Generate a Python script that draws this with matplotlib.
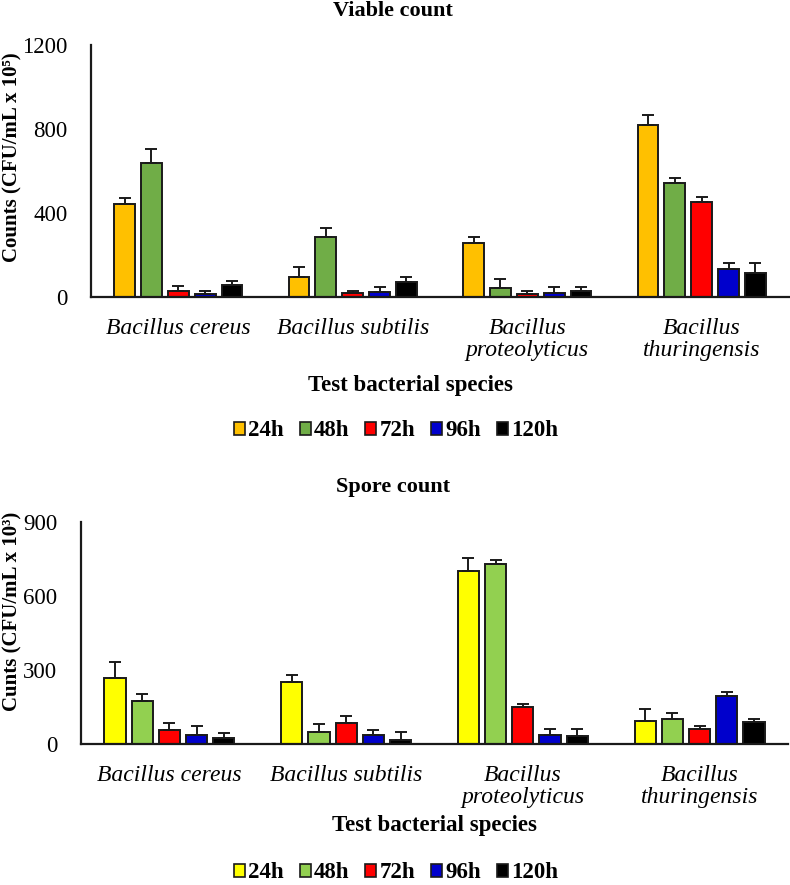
import numpy as np
import matplotlib
matplotlib.use("Agg")
import matplotlib.pyplot as plt
from matplotlib.patches import Patch

plt.rcParams['font.family'] = ['Liberation Serif', 'DejaVu Serif']

species = ['Bacillus cereus', 'Bacillus subtilis', 'Bacillus\nproteolyticus', 'Bacillus\nthuringensis']
hours = ['24h', '48h', '72h', '96h', '120h']

# viable count (CFU/mL x 10^5), rows = hours, cols = species
viable = [[445, 97, 259, 819],
          [640, 284, 43, 541],
          [30, 17, 14, 451],
          [14, 22, 19, 132],
          [56, 70, 27, 116]]
viable_err = [[28, 46, 25, 49],
              [66, 45, 41, 24],
              [22, 13, 16, 24],
              [16, 27, 30, 28],
              [20, 25, 22, 44]]

# spore count (CFU/mL x 10^3)
spore = [[266, 253, 701, 95],
         [176, 47, 730, 101],
         [55, 86, 151, 59],
         [38, 36, 38, 193],
         [23, 18, 31, 88]]
spore_err = [[68, 28, 53, 46],
             [28, 33, 17, 26],
             [31, 28, 10, 14],
             [34, 19, 21, 19],
             [22, 30, 28, 15]]

viable_colors = ['#FFC000', '#70AD47', '#FF0000', '#0000CC', '#000000']
spore_colors = ['#FFFF00', '#92D050', '#FF0000', '#0000CC', '#000000']

W, H = 790, 885
fig = plt.figure(figsize=(W / 100, H / 100), dpi=100)


def draw_panel(rect, values, errs, colors, ymax, yticks, ylabel, title,
               title_y, xlabel_xy, legend_y, ylabel_y):
    ax = fig.add_axes(rect)
    x = np.arange(len(species))
    pitch, width = 0.154, 0.12
    for i, h in enumerate(hours):
        pos = x + (i - 2) * pitch
        ax.bar(pos, values[i], width, color=colors[i], edgecolor='#1a1a1a',
               linewidth=1.4, zorder=2)
        ax.errorbar(pos, values[i], yerr=[np.zeros(len(x)), errs[i]], fmt='none',
                    ecolor='#1a1a1a', elinewidth=1.4, capsize=4, capthick=1.4, zorder=3)
    ax.set_xlim(-0.5, 3.5)
    ax.set_ylim(0, ymax)
    ax.set_yticks(yticks)
    ax.set_xticks(x)
    ax.set_xticklabels(species, fontsize=17, style='italic', linespacing=1.05)
    ax.tick_params(axis='x', length=0, pad=15)
    ax.tick_params(axis='y', length=0, pad=17, labelsize=16.5)
    for s in ['top', 'right']:
        ax.spines[s].set_visible(False)
    for s in ['left', 'bottom']:
        ax.spines[s].set_color('#1a1a1a')
        ax.spines[s].set_linewidth(1.6)

    fig.text(393 / W, 1 - title_y / H, title, ha='center', va='center',
             fontsize=16, fontweight='bold')
    fig.text(xlabel_xy[0] / W, 1 - xlabel_xy[1] / H, 'Test bacterial species',
             ha='center', va='center', fontsize=16.5, fontweight='bold')
    fig.text(12 / W, 1 - ylabel_y / H, ylabel, ha='center', va='center',
             rotation=90, fontsize=15, fontweight='bold')
    handles = [Patch(facecolor=c, edgecolor='#1a1a1a', linewidth=1.2) for c in colors]
    fig.legend(handles, hours, loc='center', bbox_to_anchor=(396 / W, 1 - legend_y / H),
               ncol=5, frameon=False, handlelength=0.48, handleheight=0.5,
               handletextpad=0.13, columnspacing=0.7, borderpad=0.2,
               prop={'size': 16.5, 'weight': 'bold'})
    return ax


draw_panel([91 / W, 1 - 297 / H, 698 / W, 252 / H], viable, viable_err, viable_colors,
           1200, [0, 400, 800, 1200], 'Counts (CFU/mL x 10\u2075)', 'Viable count',
           11, (410, 385), 431, 157)

draw_panel([81 / W, 1 - 744 / H, 707 / W, 222 / H], spore, spore_err, spore_colors,
           900, [0, 300, 600, 900], 'Cunts (CFU/mL x 10\u00b3)', 'Spore count',
           487, (434, 825), 873, 611)

fig.savefig('out.png', dpi=100)
